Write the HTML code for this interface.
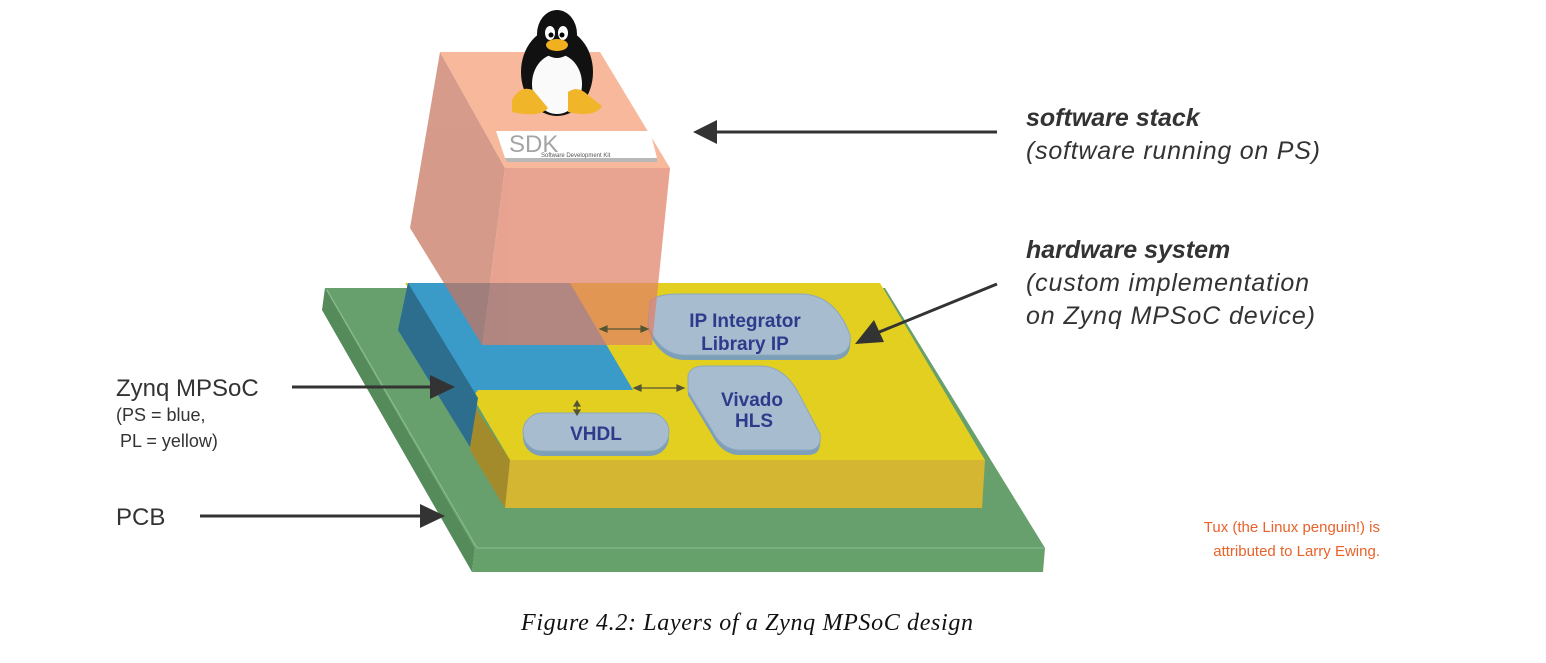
<!DOCTYPE html>
<html><head><meta charset="utf-8"><style>
html,body{margin:0;padding:0;background:#fff;}
svg{display:block;}
</style></head><body>
<svg width="1546" height="663" viewBox="0 0 1546 663" xmlns="http://www.w3.org/2000/svg">
<!-- PCB -->
<polygon points="325,288 885,288 1045,548 475,548" fill="#67a06c"/>
<polygon points="325,288 475,548 472,572 322,310" fill="#558a5a"/>
<polygon points="475,548 1045,548 1043,572 472,572" fill="#66a06b"/>
<line x1="327" y1="290" x2="477" y2="548" stroke="#8cc090" stroke-width="1"/>
<line x1="477" y1="548" x2="1044" y2="548" stroke="#8cc090" stroke-width="1"/>
<!-- Yellow PL -->
<polygon points="405,283 880,283 985,460 510,460" fill="#e2cf20"/>
<polygon points="470,400 510,460 505,508 470,450" fill="#a38b2b"/>
<polygon points="510,460 985,460 982,508 505,508" fill="#d4b633"/>
<!-- Blue PS -->
<polygon points="408,283 570,283 633,390 478,390 470,400 470,447 398,330" fill="#3a9ac8"/>
<polygon points="408,283 478,398 470,447 398,330" fill="#2d6d8e"/>
<!-- blocks -->
<g font-family="Liberation Sans, sans-serif" font-weight="bold" fill="#2e3a8c" text-anchor="middle">
<path d="M650,305 Q655,297 680,297 L800,297 Q835,297 850,340 Q852,358 835,360 L685,360 Q660,360 648,330 Z" fill="#7e9fb8"/>
<path d="M650,302 Q655,294 680,294 L800,294 Q835,294 850,335 Q852,353 835,355 L685,355 Q660,355 648,325 Z" fill="#a7bdcf" stroke="#8aa8c0"/>
<text x="745" y="327" font-size="19">IP Integrator</text>
<text x="745" y="350" font-size="19">Library IP</text>
<path d="M688,380 Q690,370 705,370 L760,370 Q785,370 800,400 L820,438 Q822,455 808,455 L740,455 Q722,455 712,435 L688,395 Z" fill="#7e9fb8"/>
<path d="M688,376 Q690,366 705,366 L760,366 Q785,366 800,396 L820,434 Q822,450 808,450 L740,450 Q722,450 712,430 L688,391 Z" fill="#a7bdcf" stroke="#8aa8c0"/>
<text x="752" y="406" font-size="19">Vivado</text>
<text x="754" y="427" font-size="19">HLS</text>
<rect x="523" y="418" width="146" height="38" rx="19" fill="#7e9fb8"/>
<rect x="523" y="413" width="146" height="38" rx="19" fill="#a7bdcf" stroke="#8aa8c0"/>
<text x="596" y="440" font-size="19">VHDL</text>
</g>
<!-- Pink SW box (semi-transparent) -->
<g opacity="0.72">
<polygon points="440,52 505,168 482,345 410,228" fill="#c6745e"/>
<polygon points="505,168 670,168 652,345 482,345" fill="#e07f66"/>
</g>
<polygon points="440,52 600,52 670,168 505,168" fill="#f7b89c"/>
<!-- small connectors -->
<g stroke="#553" stroke-width="1.2" fill="#553">
<line x1="604" y1="329" x2="644" y2="329"/>
<polygon points="600,329 607,326 607,332"/><polygon points="648,329 641,326 641,332"/>
<line x1="638" y1="388" x2="680" y2="388"/>
<polygon points="634,388 641,385 641,391"/><polygon points="684,388 677,385 677,391"/>
<line x1="577" y1="404" x2="577" y2="412"/>
<polygon points="577,401 574,406 580,406"/><polygon points="577,415 574,410 580,410"/>
</g>
<!-- SDK label -->
<polygon points="496,131 650,131 657,158 505,158" fill="#ffffff"/>
<polygon points="505,158 657,158 657,162 507,162" fill="#b8b8b8"/>
<text x="509" y="152" font-family="Liberation Sans, sans-serif" font-size="24" fill="#a5a5a5">SDK</text>
<text x="541" y="157" font-family="Liberation Sans, sans-serif" font-size="6" fill="#555">Software Development Kit</text>
<!-- Tux -->
<g>
<ellipse cx="557" cy="72" rx="36" ry="44" fill="#111"/>
<ellipse cx="557" cy="84" rx="25" ry="30" fill="#fafafa"/>
<ellipse cx="557" cy="34" rx="20" ry="24" fill="#111"/>
<ellipse cx="550" cy="33" rx="5" ry="7" fill="#fff"/><ellipse cx="563" cy="33" rx="5" ry="7" fill="#fff"/>
<circle cx="551" cy="35" r="2.5" fill="#000"/><circle cx="562" cy="35" r="2.5" fill="#000"/>
<ellipse cx="557" cy="45" rx="11" ry="6" fill="#f0b020"/>
<path d="M512,100 Q520,85 533,90 L548,108 Q540,118 512,112 Z" fill="#f1b52a"/>
<path d="M568,92 Q578,85 588,95 L602,106 Q595,118 568,112 Z" fill="#f1b52a"/>
</g>
<!-- arrows -->
<g stroke="#333" stroke-width="3" fill="#333">
<line x1="997" y1="132" x2="712" y2="132"/><polygon points="693,132 717,120 717,144" stroke="none"/>
<line x1="997" y1="284" x2="872" y2="335"/><polygon points="855,344 874,320 884,342" stroke="none"/>
<line x1="292" y1="387" x2="435" y2="387"/><polygon points="455,387 430,375 430,399" stroke="none"/>
<line x1="200" y1="516" x2="425" y2="516"/><polygon points="445,516 420,504 420,528" stroke="none"/>
</g>
<!-- text -->
<g font-family="Liberation Sans, sans-serif" fill="#333">
<text x="1026" y="126" font-size="25" font-weight="bold" font-style="italic">software stack</text>
<text x="1026" y="159" font-size="25" font-style="italic" textLength="294">(software running on PS)</text>
<text x="1026" y="258" font-size="25" font-weight="bold" font-style="italic">hardware system</text>
<text x="1026" y="291" font-size="25" font-style="italic" textLength="283">(custom implementation</text>
<text x="1026" y="324" font-size="25" font-style="italic" textLength="289">on Zynq MPSoC device)</text>
<text x="116" y="396" font-size="24">Zynq MPSoC</text>
<text x="116" y="421" font-size="18">(PS = blue,</text>
<text x="120" y="447" font-size="18"> PL = yellow)</text>
<text x="116" y="525" font-size="24">PCB</text>
<text x="1380" y="532" font-size="15" fill="#e8622a" text-anchor="end">Tux (the Linux penguin!) is</text>
<text x="1380" y="556" font-size="15" fill="#e8622a" text-anchor="end">attributed to Larry Ewing.</text>
</g>
<text x="521" y="630" font-family="Liberation Serif, serif" font-style="italic" font-size="24" fill="#111" textLength="452">Figure 4.2:  Layers of a Zynq MPSoC design</text>
</svg>
</body></html>
